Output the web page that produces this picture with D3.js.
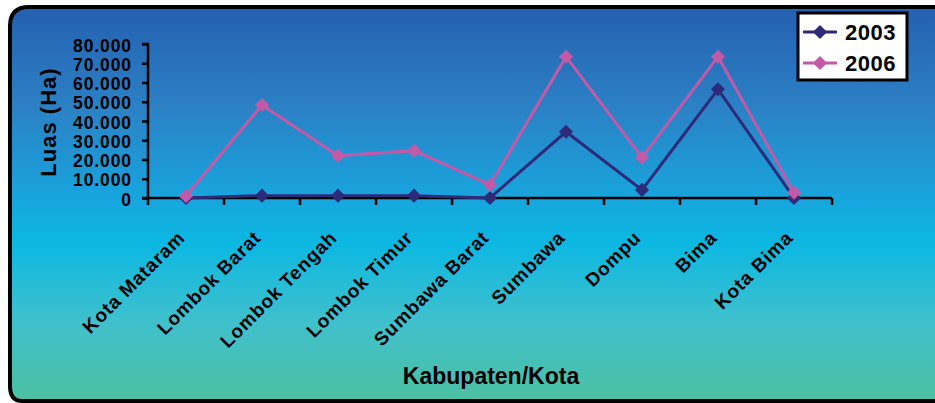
<!DOCTYPE html>
<html>
<head>
<meta charset="utf-8">
<script src="https://cdn.jsdelivr.net/npm/d3@7"></script>
<style>
  html, body { margin: 0; padding: 0; background: #fff; }
  svg { display: block; }
  text { font-family: "Liberation Sans", Arial, sans-serif; font-weight: bold; fill: #000; }
</style>
</head>
<body>
<svg id="chart" width="935" height="403"></svg>
<script>
// Land area (Ha) per regency/city
const categories = ["Kota Mataram", "Lombok Barat", "Lombok Tengah", "Lombok Timur",
  "Sumbawa Barat", "Sumbawa", "Dompu", "Bima", "Kota Bima"];
const values2003 = [0, 1.2, 1.2, 1.2, 0, 34.4, 4.2, 56.5, 0];
const values2006 = [1, 48.3, 22, 24.6, 6.8, 73.4, 21, 73.4, 2.8];
const yTicks = [0, 10, 20, 30, 40, 50, 60, 70, 80];
const seriesNames = ["2003", "2006"];
const seriesColors = ["#2e2a7a", "#c25aa8"];

const svg = d3.select("#chart");
const W = 935, H = 403;

// background gradient panel
const defs = svg.append("defs");
const grad = defs.append("linearGradient").attr("id", "bg").attr("x1", 0).attr("y1", 0).attr("x2", 0).attr("y2", 1);
[[0, "#2460b0"], [0.25, "#2c80c4"], [0.48, "#18a4dd"], [0.6, "#0cb8e2"], [0.8, "#40c0cc"], [1, "#4cc0a2"]]
  .forEach(([o, c]) => grad.append("stop").attr("offset", o).attr("stop-color", c));

svg.append("path")
  .attr("d", `M10,386 L10,26 Q10,7 29,7 L${W + 20},7 L${W + 20},401 L22,401 Q10,401 10,386 Z`)
  .attr("fill", "url(#bg)")
  .attr("stroke", "#000")
  .attr("stroke-width", 4);

// scales
const x = d3.scaleBand().domain(categories).range([148, 832]);
const y = d3.scaleLinear().domain([0, 80]).range([198, 44]);
const cx = d => x(d) + x.bandwidth() / 2;

// y axis
const yAxis = svg.append("g").attr("transform", "translate(148,0)")
  .call(d3.axisLeft(y).tickValues(yTicks).tickSize(6).tickPadding(10)
    .tickFormat(d => d === 0 ? "0" : d3.format(".3f")(d)));
yAxis.select(".domain").attr("stroke", "#000").attr("stroke-width", 2.5)
  .attr("d", "M-6,44H0V198H-6");
yAxis.selectAll(".tick line").attr("stroke", "#000").attr("stroke-width", 2.5);
yAxis.selectAll(".tick text").attr("font-size", 17.5).attr("letter-spacing", 0.9)
  .attr("dy", "0.4em").attr("fill", "#000")
  .style("font-family", "'Liberation Sans', Arial, sans-serif").style("font-weight", "bold");

// x axis: ticks on category boundaries
const xAxisG = svg.append("g").attr("transform", "translate(0,198)");
xAxisG.append("line").attr("x1", 148).attr("x2", 832).attr("stroke", "#000").attr("stroke-width", 2.5);
const boundaries = categories.map(c => x(c)).concat([x(categories[categories.length - 1]) + x.bandwidth()]);
xAxisG.selectAll(".xt").data(boundaries).enter().append("line")
  .attr("x1", d => d).attr("x2", d => d).attr("y1", 0).attr("y2", 7)
  .attr("stroke", "#000").attr("stroke-width", 2.5);

// rotated category labels
svg.selectAll(".xl").data(categories).enter().append("text")
  .attr("transform", d => `translate(${cx(d)},239) rotate(-45)`)
  .attr("text-anchor", "end")
  .attr("font-size", 19)
  .attr("letter-spacing", 0.8)
  .text(d => d);

// axis titles
svg.append("text")
  .attr("transform", "translate(56,122) rotate(-90)")
  .attr("text-anchor", "middle")
  .attr("font-size", 22)
  .attr("letter-spacing", 1)
  .text("Luas (Ha)");

svg.append("text")
  .attr("x", 491).attr("y", 384)
  .attr("text-anchor", "middle")
  .attr("font-size", 23)
  .text("Kabupaten/Kota");

// series lines and diamond markers
const line = d3.line().x((d, i) => cx(categories[i])).y(d => y(d));
const diamondSq = d3.symbol().type(d3.symbolSquare).size(100);

[values2003, values2006].forEach((vals, s) => {
  svg.append("path").datum(vals)
    .attr("d", line).attr("fill", "none")
    .attr("stroke", seriesColors[s]).attr("stroke-width", 3);
});
[values2003, values2006].forEach((vals, s) => {
  svg.selectAll(".m" + s).data(vals).enter().append("path")
    .attr("transform", (d, i) => `translate(${cx(categories[i])},${y(d)}) rotate(45)`)
    .attr("d", diamondSq)
    .attr("fill", seriesColors[s]);
});

// legend
const lg = svg.append("g");
lg.append("rect").attr("x", 798).attr("y", 13).attr("width", 109).attr("height", 67)
  .attr("fill", "#fff").attr("stroke", "#000").attr("stroke-width", 3);
seriesNames.forEach((name, s) => {
  const ly = 32 + s * 31;
  lg.append("line").attr("x1", 803).attr("x2", 837).attr("y1", ly).attr("y2", ly)
    .attr("stroke", seriesColors[s]).attr("stroke-width", 3);
  lg.append("path").attr("transform", `translate(820,${ly}) rotate(45)`)
    .attr("d", diamondSq).attr("fill", seriesColors[s]);
  lg.append("text").attr("x", 845).attr("y", ly + 8).attr("font-size", 22)
    .attr("letter-spacing", 0.5).text(name);
});
</script>
</body>
</html>
